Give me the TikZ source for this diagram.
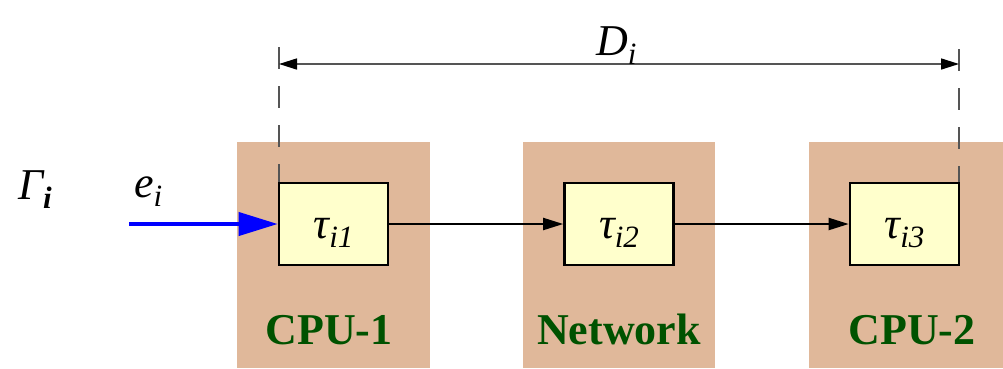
\documentclass[tikz,border=0pt]{standalone}
\usepackage{fontspec}
\setmainfont{Liberation Serif}
\usetikzlibrary{arrows.meta}
\definecolor{tanbg}{RGB}{224,184,154}
\definecolor{taskfill}{RGB}{255,255,204}
\definecolor{labgreen}{RGB}{0,82,0}
\definecolor{dimgray}{RGB}{85,85,85}
\tikzset{
  resource/.style={fill=tanbg, draw=none, inner sep=0pt},
  taskbox/.style={draw=black, fill=taskfill, line width=2.6pt, inner sep=0pt,
    minimum width=109pt, minimum height=82pt, text height=40pt, text depth=12pt,
    font=\fontsize{44}{48}\selectfont\itshape},
  reslabel/.style={text=labgreen, anchor=base, inner sep=0pt,
    font=\fontsize{44}{48}\selectfont\bfseries},
  flow/.style={line width=2pt, -{Triangle[length=20pt,width=12pt]}},
  release/.style={blue, line width=4pt, -{Triangle[length=39pt,width=23pt]}},
  deadline/.style={dimgray, line width=1.5pt, dash pattern=on 22pt off 17pt, dash phase=28pt},
  dimline/.style={dimgray, line width=1.6pt,
    {Triangle[length=18pt,width=11pt,color=black]}-{Triangle[length=18pt,width=11pt,color=black]}},
  mathlab/.style={inner sep=0pt, anchor=base west, font=\fontsize{44}{48}\selectfont\itshape}
}
\newcommand{\lowsub}[1]{\raisebox{-9pt}{\fontsize{31}{33}\selectfont\itshape #1}}
\begin{document}
\begin{tikzpicture}[x=1pt,y=-1pt]
  \useasboundingbox (0,0) rectangle (1003,368);

  % processing resources
  \node[resource, minimum width=193pt, minimum height=226pt] (cpu1) at (333.5,255) {};
  \node[resource, minimum width=192pt, minimum height=226pt] (net)  at (619,255) {};
  \node[resource, minimum width=194pt, minimum height=226pt] (cpu2) at (906,255) {};

  \node[reslabel] (cpu1lab) at (329,344) {CPU-1};
  \node[reslabel] (netlab)  at (619,344) {Network};
  \node[reslabel] (cpu2lab) at (912,344) {CPU-2};

  % end-to-end deadline markers
  \coordinate (d1top) at (279,36);
  \coordinate (d1bot) at (279,272);
  \coordinate (d2top) at (959,38);
  \coordinate (d2bot) at (959,272);
  \draw[deadline] (d1top) -- (d1bot);
  \draw[deadline] (d2top) -- (d2bot);
  \coordinate (dimL) at (279,64);
  \coordinate (dimR) at (959,64);
  \draw[dimline] (dimL) -- (dimR);
  \node[mathlab] (dlab) at (596,55) {D\lowsub{i}};

  % tasks of the chain
  \node[taskbox] (t1) at (333.5,224) {τ\lowsub{i1}};
  \node[taskbox] (t2) at (619,224)   {τ\lowsub{i2}};
  \node[taskbox] (t3) at (904.5,224) {τ\lowsub{i3}};

  \draw[flow] (t1.east) -- (t2.west);
  \draw[flow] (t2.east) -- (t3.west);

  % triggering event
  \coordinate (src) at (129,224);
  \draw[release] (src) -- (t1.west);
  \node[mathlab] (elab) at (134,197) {e\lowsub{i}};
  \node[mathlab] (gamma) at (18,199) {Γ\lowsub{\bfseries i}};
\end{tikzpicture}
\end{document}
